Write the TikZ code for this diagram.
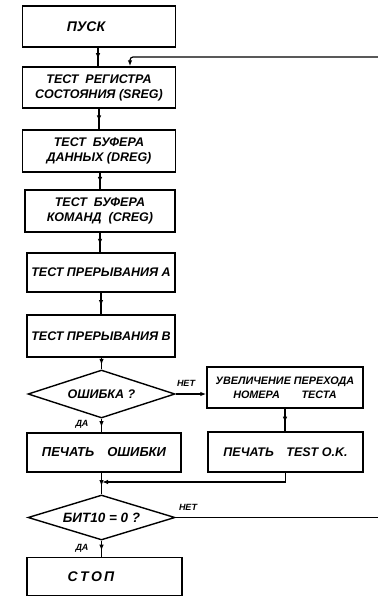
\documentclass[tikz,border=0pt]{standalone}
\usepackage{fontspec}
\setmainfont{Liberation Sans}
\usetikzlibrary{shapes.geometric,arrows.meta,calc}

% a connector with its arrowhead placed part way along the line
\newcommand\flowmid[2]{%
  \draw[conn] (#1) -- (#2);
  \draw[endarrow] (#1) -- ($(#1)!0.62!(#2)$);}

\begin{document}
\begin{tikzpicture}[x=1pt,y=-1pt,
  every node/.style={font=\fontsize{12.5}{15}\selectfont\bfseries\itshape},
  blk/.style={draw,line width=1.4pt,rectangle,inner sep=0pt,align=center},
  dec/.style={draw,line width=1.4pt,diamond,inner sep=0pt,aspect=3},
  conn/.style={line width=1.2pt},
  endarrow/.style={conn,-{Latex[length=6pt,width=4.5pt]}},
  lbl/.style={font=\fontsize{9}{9}\selectfont\bfseries\itshape,inner sep=0pt}
]
\useasboundingbox (0,0) rectangle (378,598);
\fill[white] (0,0) rectangle (378,598);

% main column
\node[blk,minimum width=153pt,minimum height=41pt] (start) at (99,26.5) {};
\node[font=\fontsize{14}{15}\selectfont\bfseries\itshape] at (86,26.5) {ПУСК};
\node[blk,minimum width=153pt,minimum height=41pt] (sreg) at (99,87.5) {ТЕСТ\ \ РЕГИСТРА\\СОСТОЯНИЯ (SREG)};
\node[blk,minimum width=153pt,minimum height=42pt] (dreg) at (99,151) {ТЕСТ\ \ БУФЕРА\\ДАННЫХ (DREG)};
\node[blk,minimum width=150pt,minimum height=42pt] (creg) at (100,211) {ТЕСТ\ \ БУФЕРА\\КОМАНД\ \ (CREG)};
\node[blk,minimum width=148pt,minimum height=39pt] (inta) at (101,272.5) {ТЕСТ ПРЕРЫВАНИЯ A};
\node[blk,minimum width=148pt,minimum height=42pt] (intb) at (101,336) {ТЕСТ ПРЕРЫВАНИЯ B};
\node[dec,minimum width=147pt,minimum height=48pt] (err) at (101.5,394) {ОШИБКА ?};
\node[blk,minimum width=154pt,minimum height=39pt,font=\fontsize{13}{15}\selectfont\bfseries\itshape] (perr) at (104,452.5) {ПЕЧАТЬ\quad ОШИБКИ};
\node[dec,minimum width=147pt,minimum height=45pt,font=\fontsize{13.5}{15}\selectfont\bfseries\itshape] (bit) at (101.5,517.5) {БИТ10 = 0 ?};
\node[blk,minimum width=155pt,minimum height=38pt] (stop) at (104.5,576.5) {};
\node[font=\fontsize{14}{15}\selectfont\bfseries\itshape] at (91,576.5) {С\,Т\,О\,П};

% right column
\node[blk,minimum width=156pt,minimum height=41pt,font=\fontsize{10.8}{14}\selectfont\bfseries\itshape] (inc) at (285,387.5) {УВЕЛИЧЕНИЕ ПЕРЕХОДА\\НОМЕРА\qquad ТЕСТА};
\node[blk,minimum width=155pt,minimum height=40pt,font=\fontsize{12.5}{14}\selectfont\bfseries\itshape] (ok) at (285.5,452) {ПЕЧАТЬ\quad TEST O.K.};

% free ends of the return path
\coordinate (retin) at (378,57);
\coordinate (retout) at (378,517.5);
\coordinate (join) at (102,482);

% connectors
\flowmid{start.south -| 98,0}{sreg.north -| 98,0}
\flowmid{sreg.south -| 99,0}{dreg.north -| 99,0}
\flowmid{dreg.south -| 100,0}{creg.north -| 100,0}
\flowmid{creg.south -| 100,0}{inta.north -| 100,0}
\flowmid{inta.south -| 101,0}{intb.north -| 101,0}
\flowmid{intb.south -| 101.5,0}{err.north}
\flowmid{err.south}{perr.north -| err.south}
\draw[endarrow] (err.east) -- (inc.west |- err.east);
\flowmid{inc.south}{ok.north -| inc.south}
\draw[endarrow] (ok.south) |- (join);
\flowmid{perr.south -| bit.north}{bit.north}
\flowmid{bit.south}{stop.north -| bit.south}
\draw[conn] (bit.east) -- (retout);
\draw[endarrow,rounded corners=3pt] (retin) -| ([xshift=31pt]sreg.north);

% branch labels
\node[lbl] at (186,383) {НЕТ};
\node[lbl] at (82,424) {ДА};
\node[lbl] at (188,507) {НЕТ};
\node[lbl] at (82,548) {ДА};
\end{tikzpicture}
\end{document}
